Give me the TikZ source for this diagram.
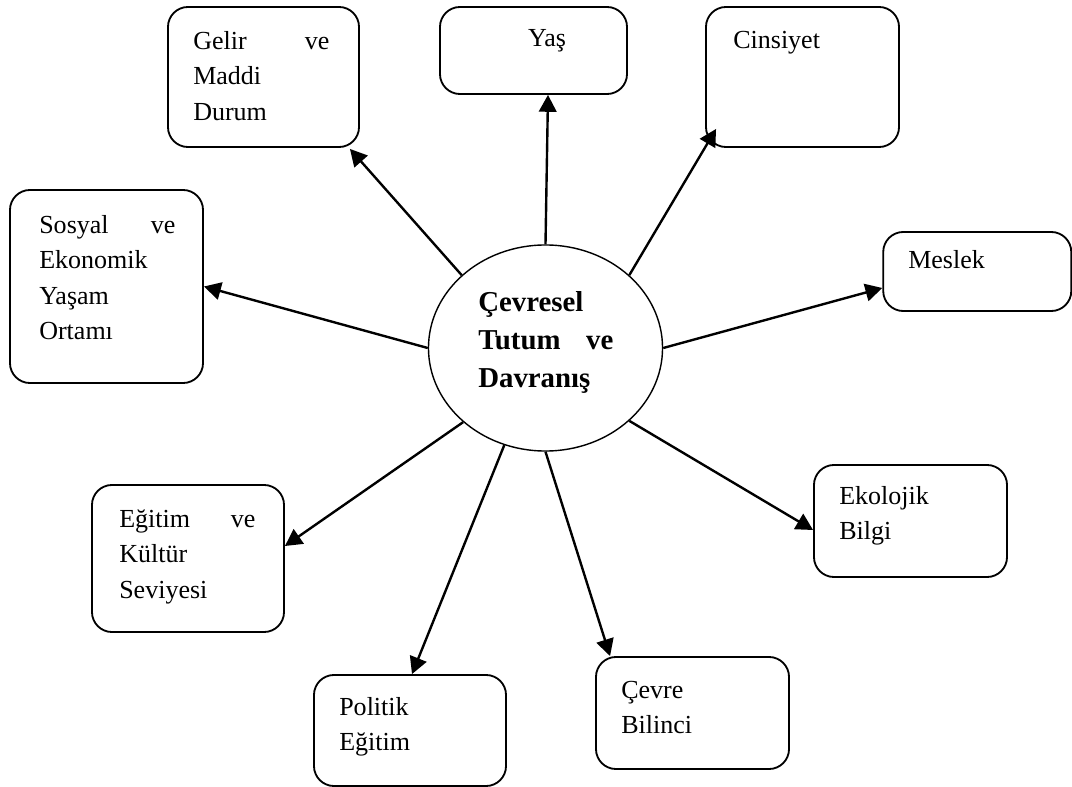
\documentclass[tikz,border=0pt]{standalone}
\usepackage{fontspec}
\setmainfont{Liberation Serif}
\usepackage{tikz}
\usetikzlibrary{shapes.geometric}
\usetikzlibrary{arrows.meta}

\newcommand{\kutufont}{\fontsize{18.5}{25.2}\selectfont}
\newcommand{\merkezfont}{\fontsize{20.5}{27.3}\selectfont\bfseries}
\newcommand{\ikiuc}[2]{\makebox[3.4cm][l]{#1\hfill #2}}

\tikzset{
	kutu/.style={draw, line width=1.3pt, rounded corners=0.5cm, inner sep=0pt},
	yazi/.style={font=\kutufont, align=left, inner sep=0pt, anchor=north west},
	merkez/.style={draw, ellipse, line width=1pt, minimum width=5.85cm, minimum height=5.15cm, inner sep=0pt},
	ok/.style={line width=1.7pt, -{Triangle[length=12pt,width=12.5pt]}}
}

\begin{document}
\begin{tikzpicture}[x=0.025cm, y=-0.025cm]
			\useasboundingbox (0, 0) rectangle (1072, 787);
			% Boxes round the centre:
			\node[merkez] (tutum) at (545.5, 348) {};
			\node[kutu, minimum width=4.775cm, minimum height=3.5cm] (gelir) at (263.5, 77) {};
			\node[kutu, minimum width=4.675cm, minimum height=2.175cm] (yas) at (533.5, 50.5) {};
			\node[kutu, minimum width=4.825cm, minimum height=3.5cm] (cins) at (802.5, 77) {};
			\node[kutu, minimum width=4.825cm, minimum height=4.825cm] (sosyal) at (106.5, 286.5) {};
			\node[kutu, minimum width=4.7cm, minimum height=1.975cm] (meslek) at (977.25, 271.5) {};
			\node[kutu, minimum width=4.8cm, minimum height=3.675cm] (egitim) at (188, 558.5) {};
			\node[kutu, minimum width=4.825cm, minimum height=2.8cm] (ekoloji) at (910.5, 521) {};
			\node[kutu, minimum width=4.8cm, minimum height=2.775cm] (politik) at (410, 730.5) {};
			\node[kutu, minimum width=4.825cm, minimum height=2.8cm] (cevre) at (692.5, 713) {};
			% Texts:
			\node[yazi, font=\merkezfont] (tutum-y) at (478, 284) {\strut Çevresel\\ \makebox[3.375cm][l]{Tutum\hfill ve}\\ Davranış};
			\node[yazi] (gelir-y) at (193, 24.3) {\strut\ikiuc{Gelir}{ve}\\ Maddi\\ Durum};
			\node[yazi, anchor=base] (yas-y) at (547, 47) {Yaş};
			\node[yazi, anchor=base west] (cins-y) at (733, 49) {Cinsiyet};
			\node[yazi] (sosyal-y) at (39, 208.3) {\strut\ikiuc{Sosyal}{ve}\\ Ekonomik\\ Yaşam\\ Ortamı};
			\node[yazi, anchor=base west] (meslek-y) at (908, 269) {Meslek};
			\node[yazi] (egitim-y) at (119, 502.3) {\strut\ikiuc{Eğitim}{ve}\\ Kültür\\ Seviyesi};
			\node[yazi] (ekoloji-y) at (839, 479.3) {\strut Ekolojik\\ Bilgi};
			\node[yazi] (politik-y) at (339, 690.3) {\strut Politik\\ Eğitim};
			\node[yazi] (cevre-y) at (621, 673.3) {\strut Çevre\\ Bilinci};
			% Arrows:
			\draw[ok] (tutum.139) -- ([shift={(-10, 1)}]gelir.south east);
			\draw[ok] (tutum.90) -- ([shift={(14.5, 0)}]yas.south);
			\draw[ok] (tutum.41.7) -- ([shift={(11, -19)}]cins.south west);
			\draw[ok] (tutum.180) -- (sosyal.east);
			\draw[ok] (tutum.0) -- ([shift={(0, 16.5)}]meslek.west);
			\draw[ok] (tutum.-41.7) -- ([shift={(0, 9)}]ekoloji.west);
			\draw[ok] (tutum.222) -- ([shift={(0, -12.5)}]egitim.east);
			\draw[ok] (tutum.247) -- ([shift={(2, 0)}]politik.north);
			\draw[ok] (tutum.270) -- ([shift={(15, 0)}]cevre.north west);
\end{tikzpicture}
\end{document}
